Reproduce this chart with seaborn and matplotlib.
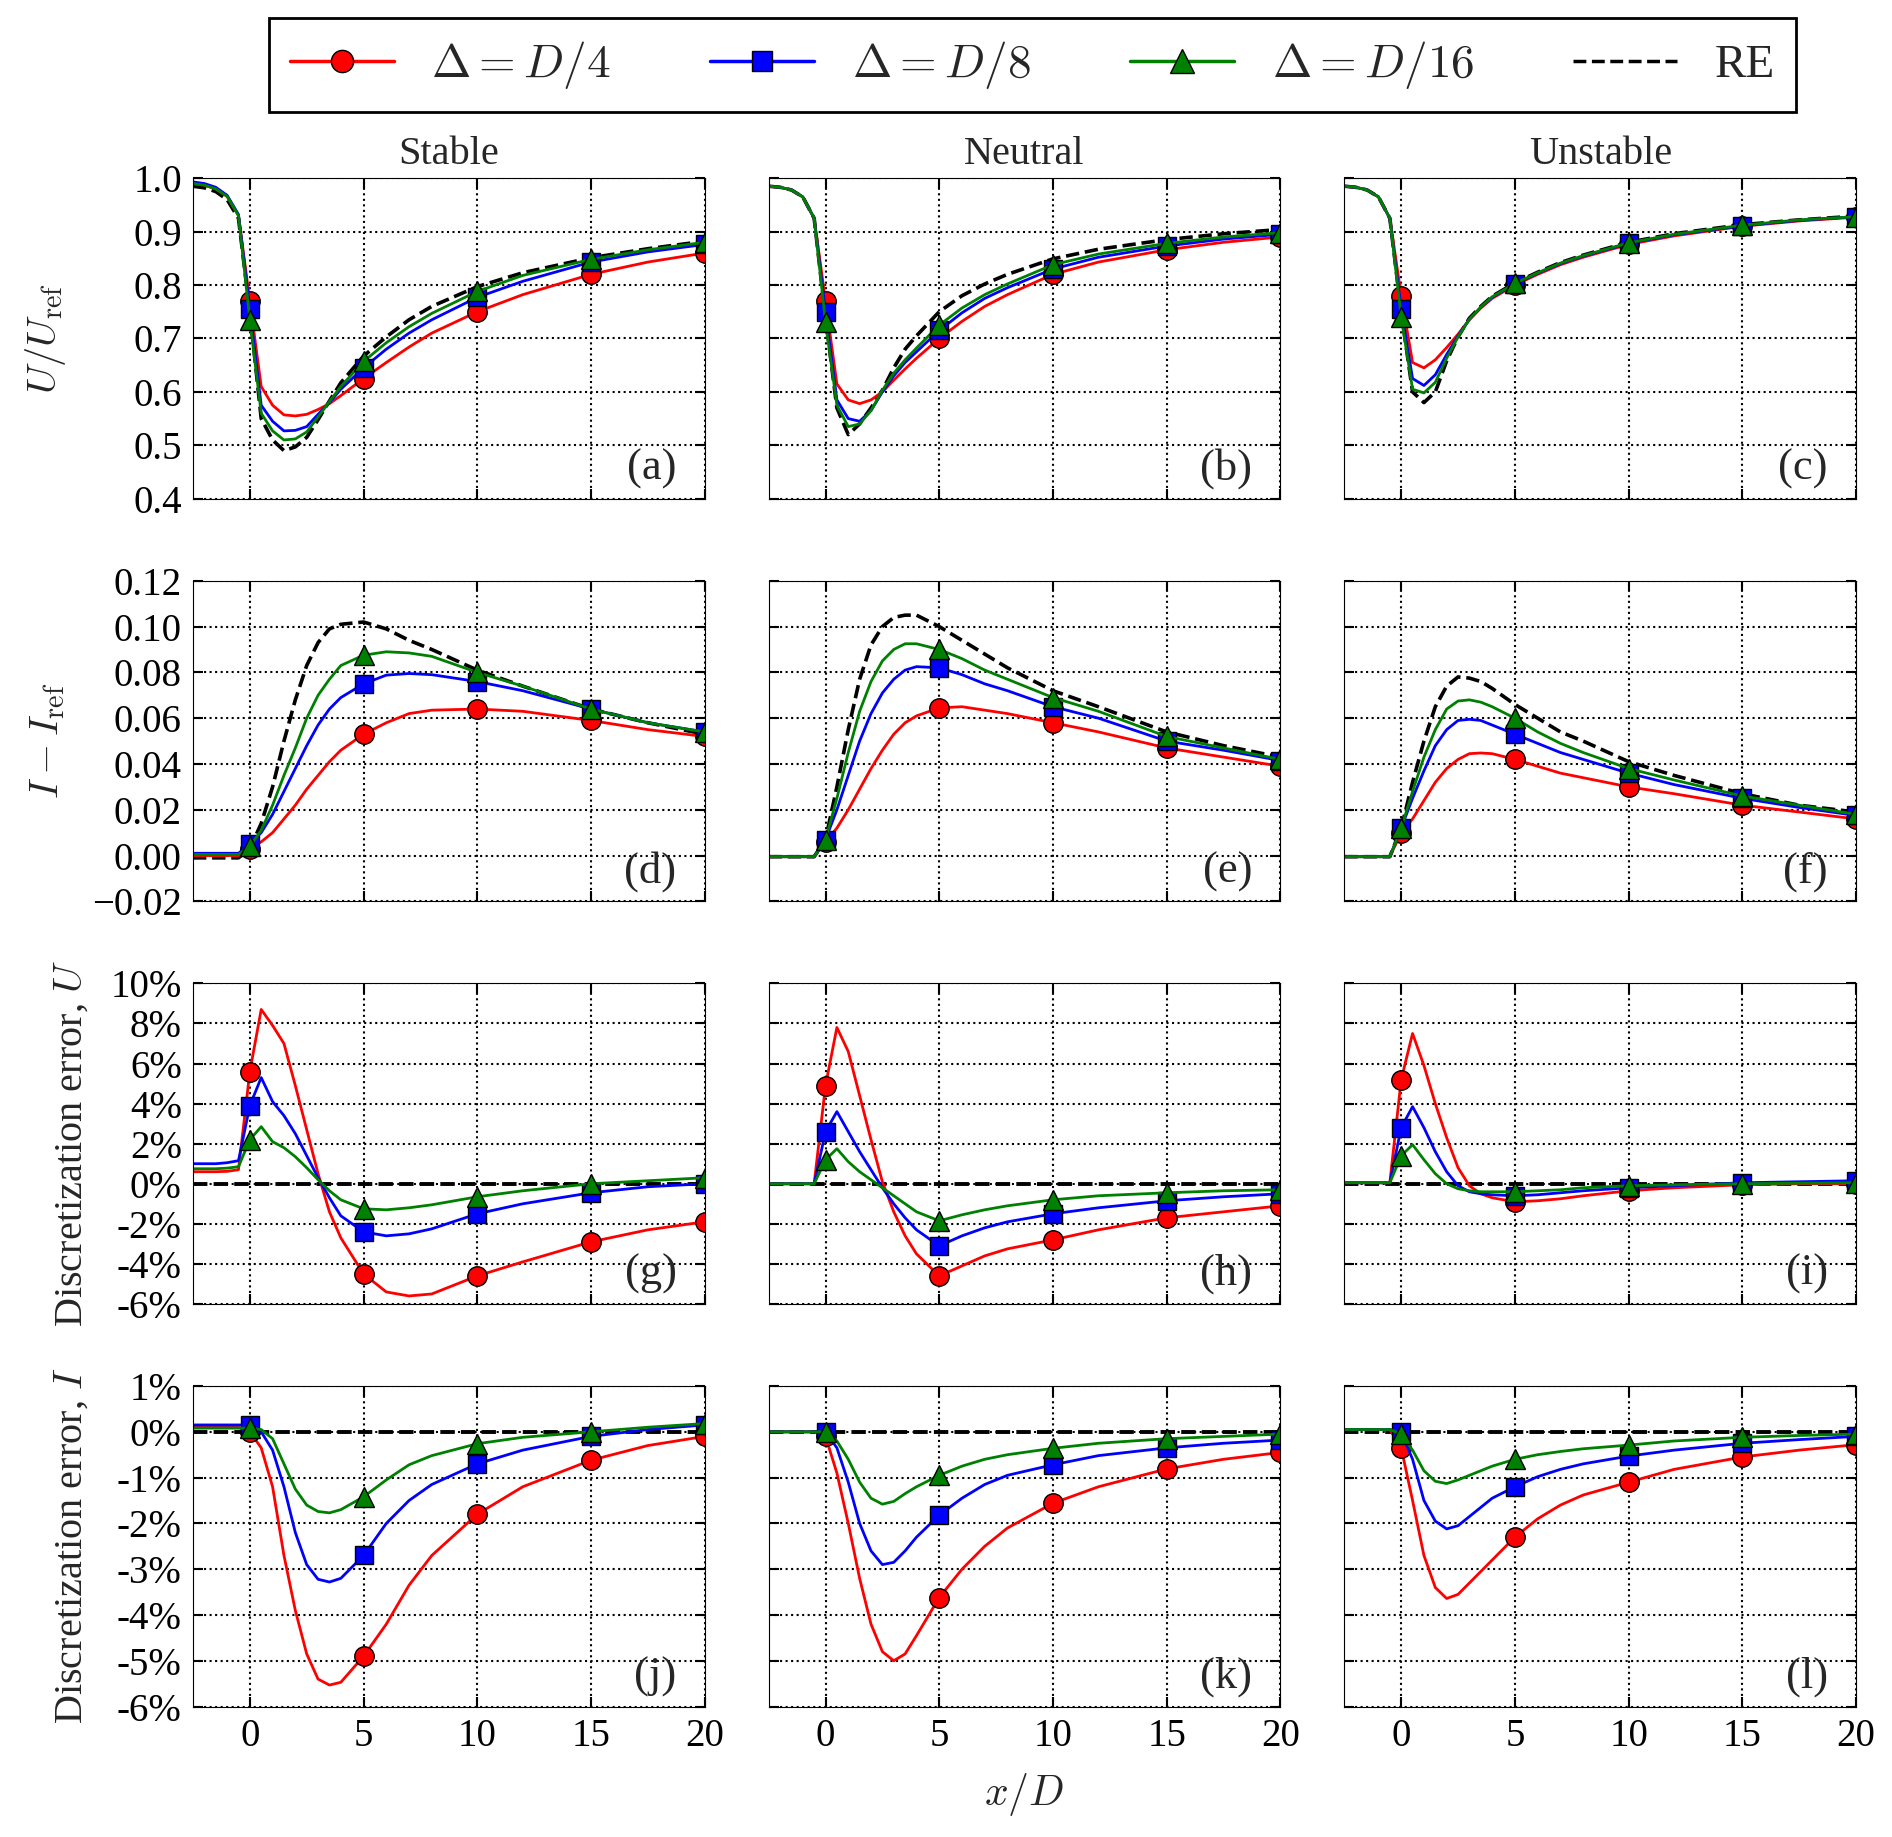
import matplotlib
matplotlib.use("Agg")
import matplotlib.pyplot as plt
import seaborn as sns
from matplotlib.lines import Line2D
from matplotlib.ticker import FuncFormatter, MultipleLocator

# ---------------------------------------------
# DATA
# ---------------------------------------------
X_D = [-2.5, -2, -1.5, -1, -0.5, 0, 0.5, 1, 1.5, 2, 2.5, 3, 3.5, 4,
       5, 6, 7, 8, 10, 12, 15, 17.5, 20]
MARK_AT = [0, 5, 10, 15, 20]

# row 1 : U / U_ref
U_STABLE_D4 = [0.990, 0.987, 0.980, 0.966, 0.930, 0.770, 0.610, 0.575, 0.557, 0.555, 0.558, 0.567, 0.578, 0.593,
               0.625, 0.655, 0.684, 0.710, 0.750, 0.782, 0.820, 0.843, 0.860]
U_STABLE_D8 = [0.993, 0.990, 0.983, 0.968, 0.932, 0.755, 0.575, 0.545, 0.527, 0.528, 0.535, 0.558, 0.580, 0.605,
               0.645, 0.680, 0.710, 0.735, 0.777, 0.807, 0.843, 0.862, 0.876]
U_STABLE_D16 = [0.990, 0.987, 0.980, 0.966, 0.930, 0.735, 0.560, 0.527, 0.510, 0.512, 0.525, 0.553, 0.582, 0.610,
                0.657, 0.692, 0.722, 0.747, 0.788, 0.818, 0.848, 0.866, 0.880]
U_STABLE_RE = [0.985, 0.982, 0.975, 0.960, 0.925, 0.750, 0.550, 0.510, 0.490, 0.497, 0.515, 0.548, 0.583, 0.617,
               0.667, 0.703, 0.735, 0.760, 0.797, 0.823, 0.851, 0.868, 0.882]

U_NEUTRAL_D4 = [0.985, 0.983, 0.978, 0.965, 0.925, 0.770, 0.615, 0.585, 0.578, 0.585, 0.600, 0.622, 0.643, 0.663,
                0.700, 0.732, 0.760, 0.782, 0.820, 0.843, 0.866, 0.880, 0.890]
U_NEUTRAL_D8 = [0.985, 0.983, 0.978, 0.965, 0.925, 0.750, 0.585, 0.550, 0.545, 0.565, 0.600, 0.630, 0.655, 0.675,
                0.715, 0.748, 0.775, 0.795, 0.830, 0.852, 0.873, 0.886, 0.895]
U_NEUTRAL_D16 = [0.985, 0.983, 0.978, 0.965, 0.925, 0.730, 0.575, 0.535, 0.540, 0.565, 0.603, 0.635, 0.660, 0.682,
                 0.725, 0.757, 0.782, 0.802, 0.838, 0.858, 0.878, 0.890, 0.898]
U_NEUTRAL_RE = [0.985, 0.983, 0.978, 0.965, 0.925, 0.740, 0.570, 0.520, 0.540, 0.570, 0.603, 0.645, 0.680, 0.705,
                0.750, 0.780, 0.802, 0.820, 0.849, 0.867, 0.885, 0.896, 0.904]

U_UNSTABLE_D4 = [0.985, 0.983, 0.978, 0.965, 0.925, 0.780, 0.655, 0.645, 0.660, 0.683, 0.708, 0.735, 0.757, 0.775,
                 0.800, 0.820, 0.838, 0.852, 0.876, 0.892, 0.910, 0.920, 0.927]
U_UNSTABLE_D8 = [0.985, 0.983, 0.978, 0.965, 0.925, 0.755, 0.625, 0.612, 0.632, 0.670, 0.705, 0.736, 0.758, 0.777,
                 0.802, 0.822, 0.840, 0.854, 0.878, 0.894, 0.911, 0.921, 0.928]
U_UNSTABLE_D16 = [0.985, 0.983, 0.978, 0.965, 0.925, 0.740, 0.605, 0.598, 0.618, 0.663, 0.703, 0.736, 0.759, 0.778,
                  0.803, 0.823, 0.841, 0.855, 0.879, 0.895, 0.912, 0.922, 0.928]
U_UNSTABLE_RE = [0.985, 0.983, 0.978, 0.965, 0.925, 0.750, 0.600, 0.580, 0.600, 0.658, 0.703, 0.738, 0.760, 0.779,
                 0.804, 0.824, 0.842, 0.856, 0.880, 0.896, 0.913, 0.922, 0.929]

# row 2 : I - I_ref
I_STABLE_D4 = [0.000, 0.000, 0.000, 0.000, 0.000, 0.003, 0.006, 0.010, 0.016, 0.022, 0.029, 0.035, 0.041, 0.046,
               0.053, 0.058, 0.062, 0.0635, 0.064, 0.063, 0.059, 0.055, 0.052]
I_STABLE_D8 = [0.001, 0.001, 0.001, 0.001, 0.001, 0.005, 0.010, 0.018, 0.028, 0.038, 0.048, 0.057, 0.064, 0.069,
               0.075, 0.0788, 0.0795, 0.079, 0.076, 0.072, 0.064, 0.058, 0.054]
I_STABLE_D16 = [0.0005, 0.0005, 0.0005, 0.0005, 0.0005, 0.004, 0.011, 0.022, 0.035, 0.047, 0.060, 0.070, 0.077, 0.083,
                0.0875, 0.089, 0.0885, 0.087, 0.080, 0.074, 0.064, 0.058, 0.054]
I_STABLE_RE = [-0.001, -0.001, -0.001, -0.001, -0.001, 0.003, 0.014, 0.030, 0.050, 0.068, 0.083, 0.093, 0.099, 0.101,
               0.102, 0.099, 0.094, 0.090, 0.081, 0.074, 0.064, 0.058, 0.053]

I_NEUTRAL_D4 = [-0.0005, -0.0005, -0.0005, -0.0005, -0.0005, 0.006, 0.012, 0.020, 0.029, 0.038, 0.046, 0.053, 0.058,
                0.061, 0.0645, 0.065, 0.0635, 0.062, 0.058, 0.054, 0.047, 0.043, 0.039]
I_NEUTRAL_D8 = [-0.0005, -0.0005, -0.0005, -0.0005, -0.0005, 0.007, 0.020, 0.035, 0.050, 0.062, 0.071, 0.077, 0.081,
                0.0825, 0.082, 0.079, 0.075, 0.072, 0.065, 0.060, 0.050, 0.046, 0.0415]
I_NEUTRAL_D16 = [-0.0005, -0.0005, -0.0005, -0.0005, -0.0005, 0.007, 0.025, 0.045, 0.063, 0.076, 0.085, 0.090, 0.0925,
                 0.0925, 0.090, 0.086, 0.081, 0.077, 0.069, 0.063, 0.052, 0.047, 0.042]
I_NEUTRAL_RE = [-0.0005, -0.0005, -0.0005, -0.0005, -0.0005, 0.007, 0.030, 0.055, 0.077, 0.092, 0.100, 0.104, 0.105,
                0.105, 0.100, 0.094, 0.088, 0.082, 0.072, 0.065, 0.054, 0.048, 0.043]

I_UNSTABLE_D4 = [-0.0005, -0.0005, -0.0005, -0.0005, -0.0005, 0.010, 0.016, 0.024, 0.032, 0.038, 0.042, 0.0445, 0.0448,
                 0.0445, 0.042, 0.039, 0.036, 0.034, 0.030, 0.027, 0.022, 0.019, 0.016]
I_UNSTABLE_D8 = [-0.0005, -0.0005, -0.0005, -0.0005, -0.0005, 0.012, 0.025, 0.037, 0.048, 0.055, 0.059, 0.0595, 0.059,
                 0.057, 0.053, 0.049, 0.045, 0.042, 0.036, 0.031, 0.025, 0.021, 0.0175]
I_UNSTABLE_D16 = [-0.0005, -0.0005, -0.0005, -0.0005, -0.0005, 0.012, 0.028, 0.043, 0.055, 0.064, 0.0675, 0.068, 0.067,
                  0.065, 0.060, 0.054, 0.049, 0.045, 0.038, 0.033, 0.026, 0.022, 0.018]
I_UNSTABLE_RE = [-0.0005, -0.0005, -0.0005, -0.0005, -0.0005, 0.012, 0.032, 0.050, 0.065, 0.074, 0.078, 0.0775, 0.076,
                 0.073, 0.066, 0.060, 0.054, 0.050, 0.041, 0.035, 0.027, 0.022, 0.019]

# row 3 : discretization error of U  [%]
EU_STABLE_D4 = [0.60, 0.60, 0.60, 0.62, 0.70, 5.6, 8.7, 7.9, 7.0, 4.9, 2.7, 0.5, -1.4, -2.7,
                -4.5, -5.4, -5.6, -5.5, -4.6, -3.9, -2.9, -2.3, -1.9]
EU_STABLE_D8 = [1.00, 1.00, 1.00, 1.05, 1.15, 3.9, 5.3, 4.1, 3.4, 2.5, 1.4, 0.3, -0.7, -1.6,
                -2.4, -2.6, -2.5, -2.25, -1.5, -1.0, -0.45, -0.15, 0.0]
EU_STABLE_D16 = [0.75, 0.75, 0.75, 0.78, 0.85, 2.2, 2.85, 2.1, 1.8, 1.35, 0.8, 0.2, -0.35, -0.8,
                 -1.25, -1.3, -1.2, -1.05, -0.65, -0.35, 0.0, 0.15, 0.3]

EU_NEUTRAL_D4 = [0.0, 0.0, 0.0, 0.0, 0.0, 4.9, 7.8, 6.6, 4.4, 2.2, 0.1, -1.4, -2.6, -3.5,
                 -4.6, -4.1, -3.6, -3.25, -2.8, -2.3, -1.7, -1.4, -1.1]
EU_NEUTRAL_D8 = [0.0, 0.0, 0.0, 0.0, 0.0, 2.6, 3.6, 2.6, 1.6, 0.7, -0.2, -1.0, -1.7, -2.3,
                 -3.1, -2.6, -2.2, -1.9, -1.5, -1.2, -0.85, -0.65, -0.5]
EU_NEUTRAL_D16 = [0.0, 0.0, 0.0, 0.0, 0.0, 1.2, 1.75, 1.1, 0.6, 0.2, -0.2, -0.6, -1.0, -1.4,
                  -1.85, -1.55, -1.3, -1.1, -0.8, -0.6, -0.45, -0.35, -0.3]

EU_UNSTABLE_D4 = [0.05, 0.05, 0.05, 0.05, 0.05, 5.2, 7.5, 5.9, 4.0, 2.3, 0.8, -0.1, -0.5, -0.7,
                  -0.9, -0.85, -0.75, -0.6, -0.35, -0.2, -0.05, 0.0, 0.0]
EU_UNSTABLE_D8 = [0.05, 0.05, 0.05, 0.05, 0.05, 2.8, 3.85, 2.8, 1.6, 0.6, -0.1, -0.4, -0.5, -0.55,
                  -0.6, -0.55, -0.45, -0.35, -0.2, -0.1, 0.05, 0.1, 0.15]
EU_UNSTABLE_D16 = [0.05, 0.05, 0.05, 0.05, 0.05, 1.4, 1.95, 1.2, 0.5, 0.0, -0.25, -0.35, -0.4, -0.4,
                   -0.4, -0.35, -0.3, -0.2, -0.1, -0.05, 0.0, 0.03, 0.05]

# row 4 : discretization error of I  [%]
EI_STABLE_D4 = [0.1, 0.1, 0.1, 0.1, 0.1, 0.0, -0.35, -1.2, -2.7, -3.9, -4.85, -5.4, -5.53, -5.47,
                -4.9, -4.2, -3.35, -2.7, -1.8, -1.2, -0.62, -0.3, -0.1]
EI_STABLE_D8 = [0.15, 0.15, 0.15, 0.15, 0.15, 0.15, 0.0, -0.4, -1.2, -2.2, -2.9, -3.22, -3.28, -3.2,
                -2.7, -2.0, -1.5, -1.15, -0.7, -0.4, -0.1, 0.05, 0.15]
EI_STABLE_D16 = [0.08, 0.08, 0.08, 0.08, 0.08, 0.08, 0.05, -0.15, -0.7, -1.25, -1.6, -1.74, -1.77, -1.7,
                 -1.42, -1.05, -0.72, -0.52, -0.26, -0.12, 0.0, 0.1, 0.18]

EI_NEUTRAL_D4 = [0.0, 0.0, 0.0, 0.0, 0.0, -0.1, -0.9, -2.0, -3.2, -4.2, -4.8, -5.0, -4.85, -4.45,
                 -3.62, -3.0, -2.5, -2.1, -1.56, -1.2, -0.81, -0.6, -0.45]
EI_NEUTRAL_D8 = [0.0, 0.0, 0.0, 0.0, 0.0, 0.0, -0.35, -1.1, -2.0, -2.6, -2.9, -2.85, -2.6, -2.3,
                 -1.82, -1.45, -1.15, -0.95, -0.72, -0.52, -0.35, -0.25, -0.18]
EI_NEUTRAL_D16 = [0.0, 0.0, 0.0, 0.0, 0.0, 0.0, -0.2, -0.6, -1.1, -1.45, -1.58, -1.52, -1.35, -1.2,
                  -0.95, -0.75, -0.6, -0.5, -0.36, -0.25, -0.15, -0.1, -0.05]

EI_UNSTABLE_D4 = [0.05, 0.05, 0.05, 0.05, 0.05, -0.35, -1.5, -2.7, -3.4, -3.64, -3.55, -3.3, -3.05, -2.8,
                  -2.3, -1.9, -1.6, -1.38, -1.1, -0.82, -0.55, -0.4, -0.28]
EI_UNSTABLE_D8 = [0.05, 0.05, 0.05, 0.05, 0.05, 0.0, -0.6, -1.5, -1.95, -2.12, -2.05, -1.85, -1.65, -1.45,
                  -1.2, -0.98, -0.82, -0.7, -0.53, -0.4, -0.25, -0.17, -0.1]
EI_UNSTABLE_D16 = [0.05, 0.05, 0.05, 0.05, 0.05, -0.05, -0.4, -0.85, -1.08, -1.13, -1.05, -0.95, -0.85, -0.75,
                   -0.6, -0.5, -0.43, -0.37, -0.29, -0.2, -0.12, -0.08, -0.05]

COLUMNS = ["Stable", "Neutral", "Unstable"]
PANEL_TAGS = ["(a)", "(b)", "(c)", "(d)", "(e)", "(f)",
              "(g)", "(h)", "(i)", "(j)", "(k)", "(l)"]
LEGEND_LABELS = [r"$\Delta = D/4$", r"$\Delta = D/8$", r"$\Delta = D/16$", "RE"]
ROW_LABELS = [r"$U/U_{\mathrm{ref}}$", r"$I - I_{\mathrm{ref}}$",
              r"Discretization error, $U$", r"Discretization error, $I$"]

# (series per grid level, reference or None) for every panel
PANELS = [
    [([U_STABLE_D4, U_STABLE_D8, U_STABLE_D16], U_STABLE_RE),
     ([U_NEUTRAL_D4, U_NEUTRAL_D8, U_NEUTRAL_D16], U_NEUTRAL_RE),
     ([U_UNSTABLE_D4, U_UNSTABLE_D8, U_UNSTABLE_D16], U_UNSTABLE_RE)],
    [([I_STABLE_D4, I_STABLE_D8, I_STABLE_D16], I_STABLE_RE),
     ([I_NEUTRAL_D4, I_NEUTRAL_D8, I_NEUTRAL_D16], I_NEUTRAL_RE),
     ([I_UNSTABLE_D4, I_UNSTABLE_D8, I_UNSTABLE_D16], I_UNSTABLE_RE)],
    [([EU_STABLE_D4, EU_STABLE_D8, EU_STABLE_D16], None),
     ([EU_NEUTRAL_D4, EU_NEUTRAL_D8, EU_NEUTRAL_D16], None),
     ([EU_UNSTABLE_D4, EU_UNSTABLE_D8, EU_UNSTABLE_D16], None)],
    [([EI_STABLE_D4, EI_STABLE_D8, EI_STABLE_D16], None),
     ([EI_NEUTRAL_D4, EI_NEUTRAL_D8, EI_NEUTRAL_D16], None),
     ([EI_UNSTABLE_D4, EI_UNSTABLE_D8, EI_UNSTABLE_D16], None)],
]

# ---------------------------------------------
# STYLE
# ---------------------------------------------
STYLES = [("red", "o", 14), ("blue", "s", 13), ("green", "^", 15)]
MARK_IDX = [X_D.index(v) for v in MARK_AT]

ROW_LIMITS = [(0.4, 1.0), (-0.02, 0.12), (-6, 10), (-6, 1)]
ROW_STEPS = [0.1, 0.02, 2, 1]
ROW_FMT = [
    FuncFormatter(lambda v, p: f"{v:.1f}"),
    FuncFormatter(lambda v, p: f"{v:.2f}".replace("-", "\u2212") if abs(v) > 1e-9 else "0.00"),
    FuncFormatter(lambda v, p: f"{v:.0f}%"),
    FuncFormatter(lambda v, p: f"{v:.0f}%"),
]
LABEL_X = [-0.245, -0.245, -0.2, -0.2]

sns.set_style("ticks", rc={
    "axes.edgecolor": "black",
    "axes.linewidth": 2.0,
    "xtick.direction": "in",
    "ytick.direction": "in",
    "xtick.top": True,
    "ytick.right": True,
    "xtick.color": "black",
    "ytick.color": "black",
})
plt.rcParams["font.family"] = ["Liberation Serif", "DejaVu Serif"]
plt.rcParams["mathtext.fontset"] = "cm"


def draw_panel(ax, series, ref):
    if ref is None:
        ax.axhline(0, color="k", linestyle="--", linewidth=2.8, zorder=1.5)
    for vals, (col, mk, ms) in zip(series, STYLES):
        sns.lineplot(x=X_D, y=vals, ax=ax, color=col, marker=mk, markersize=ms,
                     markevery=MARK_IDX, markeredgecolor="k", markeredgewidth=1.0,
                     linewidth=2.0, errorbar=None, legend=False)
    if ref is not None:
        sns.lineplot(x=X_D, y=ref, ax=ax, color="k", linestyle="--",
                     linewidth=2.6, errorbar=None, legend=False, zorder=1.9)


fig, axes = plt.subplots(4, 3, figsize=(18.92, 18.37), dpi=100)
fig.subplots_adjust(left=0.102, right=0.981, top=0.903, bottom=0.071,
                    wspace=0.125, hspace=0.256)

for r in range(4):
    for c in range(3):
        ax = axes[r, c]
        series, ref = PANELS[r][c]
        draw_panel(ax, series, ref)

        ax.set_xlim(-2.5, 20)
        ax.set_ylim(*ROW_LIMITS[r])
        ax.xaxis.set_major_locator(MultipleLocator(5))
        ax.yaxis.set_major_locator(MultipleLocator(ROW_STEPS[r]))
        ax.yaxis.set_major_formatter(ROW_FMT[r])
        ax.grid(True, color="k", linestyle=":", linewidth=1.5)
        ax.tick_params(which="major", length=7, width=1.5, labelsize=28,
                       top=True, right=True, pad=8)
        ax.set_xlabel("")
        ax.set_ylabel("")
        if c > 0:
            ax.tick_params(labelleft=False)
        if r < 3:
            ax.tick_params(labelbottom=False)
        ax.text(0.945, 0.03, PANEL_TAGS[r * 3 + c], transform=ax.transAxes,
                ha="right", va="bottom", fontsize=32)
        if r == 0:
            ax.set_title(COLUMNS[c], fontsize=29, pad=10)
        if c == 0:
            ax.set_ylabel(ROW_LABELS[r], fontsize=29)
            ax.yaxis.set_label_coords(LABEL_X[r], 0.5)

axes[3, 1].set_xlabel(r"$x/D$", fontsize=30, labelpad=12)

# legend on top of the figure
handles = [Line2D([], [], color=col, marker=mk, markersize=ms + 2, markeredgecolor="k",
                  markeredgewidth=1.0, linewidth=2.5) for col, mk, ms in STYLES]
handles.append(Line2D([], [], color="k", linestyle="--", linewidth=2.5))
leg = fig.legend(handles, LEGEND_LABELS, loc="center", bbox_to_anchor=(0.5457, 0.9646),
                 ncol=4, fontsize=34, frameon=True, fancybox=False, framealpha=1,
                 edgecolor="k", handlelength=2.2, handletextpad=0.8, columnspacing=2.1,
                 borderpad=0.45)
leg.get_frame().set_linewidth(2.0)

fig.savefig("out.png", dpi=100)
plt.close(fig)
